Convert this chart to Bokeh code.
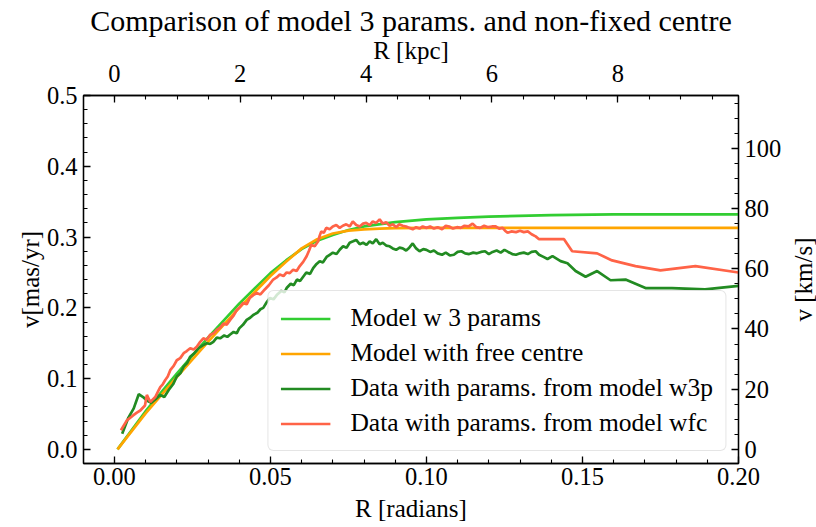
import math
from bokeh.plotting import figure
from bokeh.models import (Range1d, LinearAxis, SingleIntervalTicker,
                          PrintfTickFormatter, Legend, LegendItem, Label)
from bokeh.embed import file_html
from bokeh.resources import INLINE

# ---------------- data ----------------
D_KPC = 49.59            # rad -> kpc
KMS = 4.74 * D_KPC       # mas/yr -> km/s

model3_r = [0.001, 0.01, 0.02, 0.03, 0.04, 0.05, 0.055, 0.06, 0.065, 0.07,
            0.075, 0.08, 0.09, 0.10, 0.11, 0.12, 0.14, 0.16, 0.18, 0.20]
model3_v = [0.0, 0.054, 0.107, 0.158, 0.206, 0.249, 0.267, 0.283, 0.295, 0.303,
            0.310, 0.315, 0.321, 0.325, 0.327, 0.329, 0.331, 0.332, 0.332, 0.332]

modelfc_r = [0.001, 0.01, 0.02, 0.03, 0.04, 0.05, 0.055, 0.06, 0.065, 0.07,
             0.075, 0.08, 0.085, 0.09, 0.10, 0.20]
modelfc_v = [0.0, 0.051, 0.102, 0.152, 0.200, 0.245, 0.265, 0.284, 0.297, 0.305,
             0.309, 0.311, 0.312, 0.3125, 0.313, 0.313]

w3p_r = [0.0025, 0.0045, 0.0062, 0.0078, 0.0092, 0.0104, 0.0118, 0.0132, 0.0147, 0.0160,
         0.0174, 0.0188, 0.0200, 0.0212, 0.0222, 0.0233, 0.0243, 0.0256, 0.0270, 0.0283,
         0.0296, 0.0307, 0.0317, 0.0328, 0.0339, 0.0352, 0.0362, 0.0370, 0.0382, 0.0392,
         0.0400, 0.0412, 0.0424, 0.0435, 0.0445, 0.0458, 0.0468, 0.0477, 0.0488, 0.0498,
         0.0510, 0.0522, 0.0535, 0.0545, 0.0552, 0.0565, 0.0575, 0.0585, 0.0595, 0.0605,
         0.0615, 0.0627, 0.0637, 0.0648, 0.0658, 0.0668, 0.0680, 0.0690, 0.0700, 0.0712,
         0.0722, 0.0733, 0.0744, 0.0754, 0.0765, 0.0775, 0.0786, 0.0797, 0.0808, 0.0818,
         0.0828, 0.0839, 0.0850, 0.0860, 0.0871, 0.0882, 0.0892, 0.0903, 0.0914, 0.0924,
         0.0935, 0.0945, 0.0956, 0.0967, 0.0978, 0.0990, 0.1000, 0.1012, 0.1024, 0.1036,
         0.1050, 0.1062, 0.1075, 0.1088, 0.1100, 0.1112, 0.1124, 0.1137, 0.1150, 0.1162,
         0.1175, 0.1188, 0.1200, 0.1212, 0.1225, 0.1238, 0.1250, 0.1262, 0.1275, 0.1287,
         0.1300, 0.1312, 0.1325, 0.1337, 0.1350, 0.1361, 0.1375, 0.1388, 0.1404, 0.1430,
         0.1452, 0.1478, 0.1510, 0.1547, 0.1590, 0.1638, 0.1702, 0.1787, 0.1893, 0.2000]
w3p_v = [0.022, 0.045, 0.058, 0.078, 0.074, 0.069, 0.066, 0.071, 0.077, 0.074,
         0.084, 0.092, 0.103, 0.108, 0.117, 0.122, 0.131, 0.136, 0.143, 0.147,
         0.150, 0.149, 0.152, 0.158, 0.157, 0.161, 0.159, 0.162, 0.166, 0.164,
         0.171, 0.176, 0.183, 0.186, 0.190, 0.193, 0.198, 0.200, 0.208, 0.214,
         0.212, 0.219, 0.224, 0.222, 0.228, 0.234, 0.232, 0.240, 0.238, 0.244,
         0.250, 0.248, 0.256, 0.262, 0.266, 0.264, 0.272, 0.275, 0.278, 0.276,
         0.282, 0.287, 0.285, 0.292, 0.294, 0.296, 0.290, 0.292, 0.289, 0.294,
         0.291, 0.297, 0.290, 0.292, 0.288, 0.287, 0.284, 0.282, 0.285, 0.284,
         0.281, 0.285, 0.291, 0.284, 0.280, 0.283, 0.282, 0.279, 0.281, 0.277,
         0.275, 0.278, 0.274, 0.275, 0.279, 0.280, 0.277, 0.276, 0.278, 0.277,
         0.279, 0.280, 0.276, 0.279, 0.281, 0.278, 0.282, 0.279, 0.276, 0.275,
         0.277, 0.278, 0.276, 0.279, 0.280, 0.275, 0.272, 0.269, 0.273, 0.266,
         0.263, 0.252, 0.244, 0.252, 0.239, 0.240, 0.228, 0.228, 0.226, 0.231]

wfc_r = [0.0021, 0.0040, 0.0060, 0.0072, 0.0083, 0.0098, 0.0104, 0.0115, 0.0124, 0.0131,
         0.0140, 0.0147, 0.0155, 0.0163, 0.0171, 0.0179, 0.0190, 0.0200, 0.0211, 0.0222,
         0.0232, 0.0243, 0.0254, 0.0264, 0.0275, 0.0285, 0.0296, 0.0307, 0.0318, 0.0328,
         0.0339, 0.0350, 0.0360, 0.0371, 0.0382, 0.0392, 0.0402, 0.0413, 0.0424, 0.0434,
         0.0445, 0.0456, 0.0468, 0.0482, 0.0495, 0.0509, 0.0520, 0.0530, 0.0542, 0.0552,
         0.0562, 0.0573, 0.0584, 0.0594, 0.0605, 0.0616, 0.0624, 0.0631, 0.0642, 0.0653,
         0.0658, 0.0663, 0.0671, 0.0679, 0.0690, 0.0700, 0.0711, 0.0722, 0.0732, 0.0743,
         0.0754, 0.0764, 0.0775, 0.0786, 0.0797, 0.0807, 0.0818, 0.0828, 0.0839, 0.0850,
         0.0860, 0.0871, 0.0882, 0.0892, 0.0903, 0.0913, 0.0924, 0.0935, 0.0945, 0.0956,
         0.0967, 0.0978, 0.0988, 0.1000, 0.1012, 0.1024, 0.1036, 0.1050, 0.1062, 0.1073,
         0.1085, 0.1098, 0.1110, 0.1122, 0.1135, 0.1148, 0.1160, 0.1172, 0.1185, 0.1198,
         0.1210, 0.1222, 0.1233, 0.1244, 0.1252, 0.1260, 0.1272, 0.1287, 0.1300, 0.1312,
         0.1325, 0.1337, 0.1350, 0.1361, 0.1441, 0.1467, 0.1547, 0.1595, 0.1670, 0.1750,
         0.1862, 0.2000]
wfc_v = [0.027, 0.041, 0.048, 0.052, 0.055, 0.062, 0.077, 0.067, 0.071, 0.074,
         0.082, 0.088, 0.092, 0.098, 0.103, 0.112, 0.118, 0.126, 0.129, 0.136,
         0.139, 0.143, 0.141, 0.145, 0.152, 0.157, 0.155, 0.162, 0.164, 0.169,
         0.172, 0.178, 0.176, 0.183, 0.189, 0.197, 0.201, 0.207, 0.205, 0.214,
         0.218, 0.221, 0.219, 0.226, 0.232, 0.240, 0.243, 0.247, 0.245, 0.250,
         0.249, 0.254, 0.252, 0.259, 0.265, 0.273, 0.281, 0.289, 0.287, 0.294,
         0.302, 0.308, 0.306, 0.313, 0.311, 0.315, 0.317, 0.313, 0.316, 0.318,
         0.315, 0.322, 0.317, 0.315, 0.319, 0.320, 0.317, 0.322, 0.320, 0.325,
         0.319, 0.321, 0.316, 0.318, 0.314, 0.318, 0.316, 0.315, 0.313, 0.311,
         0.314, 0.312, 0.315, 0.313, 0.315, 0.312, 0.314, 0.311, 0.316, 0.315,
         0.312, 0.314, 0.313, 0.316, 0.315, 0.319, 0.314, 0.313, 0.316, 0.314,
         0.315, 0.315, 0.312, 0.313, 0.309, 0.306, 0.308, 0.307, 0.309, 0.307,
         0.308, 0.304, 0.301, 0.297, 0.297, 0.280, 0.277, 0.267, 0.259, 0.253,
         0.259, 0.250]

labels = ["Model w 3 params", "Model with free centre",
          "Data with params. from model w3p", "Data with params. from model wfc"]
colors = ["#32CD32", "#FFA500", "#228B22", "#FF6347"]

# ---------------- figure ----------------
FONT = "Liberation Serif"
X0, X1 = -0.0099, 0.20001
Y0, Y1 = -0.0199, 0.50001

p = figure(width=816, height=527, x_range=Range1d(X0, X1), y_range=Range1d(Y0, Y1),
           output_backend="svg", toolbar_location=None,
           x_axis_location=None, y_axis_location=None,
           min_border_left=83, min_border_right=78, min_border_top=95, min_border_bottom=64)
p.extra_x_ranges = {"kpc": Range1d(X0 * D_KPC, X1 * D_KPC)}
p.extra_y_ranges = {"kms": Range1d(Y0 * KMS, Y1 * KMS)}

p.title.text = "Comparison of model 3 params. and non-fixed centre"
p.title.text_font = FONT
p.title.text_font_size = "30px"
p.title.text_font_style = "normal"
p.title.text_color = "black"
p.title.align = "center"
p.title.standoff = -7
p.title.offset = 0

p.grid.visible = False
p.outline_line_color = "black"
p.outline_line_width = 1.3
p.background_fill_color = "white"
p.border_fill_color = "white"

bottom = LinearAxis(axis_label="R [radians]")
left = LinearAxis(axis_label="v[mas/yr]")
top_axis = LinearAxis(x_range_name="kpc", axis_label="R [kpc]")
right_axis = LinearAxis(y_range_name="kms")
p.add_layout(bottom, "below")
p.add_layout(left, "left")
p.add_layout(top_axis, "above")
p.add_layout(right_axis, "right")

bottom.ticker = SingleIntervalTicker(interval=0.05, num_minor_ticks=5)
bottom.formatter = PrintfTickFormatter(format="%.2f")
left.ticker = SingleIntervalTicker(interval=0.1, num_minor_ticks=5)
left.formatter = PrintfTickFormatter(format="%.1f")
top_axis.ticker = SingleIntervalTicker(interval=2, num_minor_ticks=4)
top_axis.formatter = PrintfTickFormatter(format="%d")
right_axis.ticker = SingleIntervalTicker(interval=20, num_minor_ticks=4)
right_axis.formatter = PrintfTickFormatter(format="%d")

for ax in (bottom, left, top_axis, right_axis):
    ax.axis_line_color = "black"
    ax.axis_line_width = 1.3
    ax.major_tick_in = 7
    ax.major_tick_out = 0
    ax.minor_tick_in = 4
    ax.minor_tick_out = 0
    ax.major_tick_line_width = 1.3
    ax.minor_tick_line_width = 1.1
    ax.major_tick_line_color = "black"
    ax.minor_tick_line_color = "black"
    ax.major_label_text_font = FONT
    ax.major_label_text_font_size = "24.5px"
    ax.major_label_text_color = "black"
    ax.axis_label_text_font = FONT
    ax.axis_label_text_font_size = "25px"
    ax.axis_label_text_font_style = "normal"
    ax.axis_label_text_color = "black"
    ax.major_label_standoff = 6
    ax.axis_label_standoff = 6

top_axis.major_label_standoff = 14
top_axis.axis_label_standoff = -2
bottom.major_label_standoff = 4
bottom.axis_label_standoff = 7
left.axis_label_standoff = 0

# right-hand axis label, reading bottom-to-top as in the reference
right_label = Label(x=803, y=279, x_units="canvas", y_units="canvas",
                    text="v [km/s]", angle=math.pi / 2,
                    text_align="center", text_baseline="middle",
                    text_font=FONT, text_font_size="25px", text_color="black")
p.add_layout(right_label, "right")

# ---------------- lines ----------------
series = [(model3_r, model3_v), (modelfc_r, modelfc_v), (w3p_r, w3p_v), (wfc_r, wfc_v)]
renderers = []
for (xs, ys), c in zip(series, colors):
    renderers.append(p.line(xs, ys, line_color=c, line_width=2.7))

legend = Legend(items=[LegendItem(label=l, renderers=[r]) for l, r in zip(labels, renderers)],
                location="bottom_right")
legend.label_text_font = FONT
legend.label_text_font_size = "25.5px"
legend.label_text_color = "black"
legend.glyph_width = 50
legend.glyph_height = 25
legend.label_height = 25
legend.label_standoff = 20
legend.spacing = 5
legend.padding = 12
legend.margin = 12
legend.border_line_color = "#cccccc"
legend.border_line_width = 1.3
legend.background_fill_color = "white"
legend.background_fill_alpha = 0.8
try:
    legend.border_radius = 6
except Exception:
    pass
p.add_layout(legend)

open("out.html", "w").write(file_html(p, INLINE))
